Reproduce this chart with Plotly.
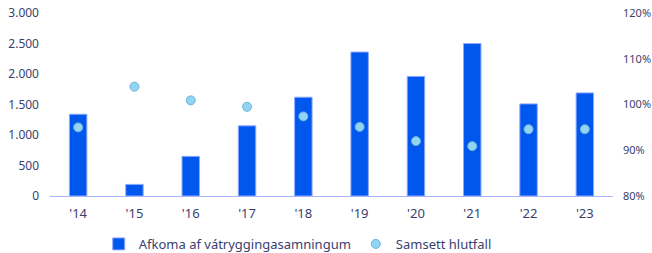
import plotly.graph_objects as go

years = ["'14", "'15", "'16", "'17", "'18", "'19", "'20", "'21", "'22", "'23"]
afkoma = [1340, 190, 650, 1150, 1620, 2360, 1960, 2500, 1510, 1690]
hlutfall = [95.0, 103.9, 100.9, 99.5, 97.4, 95.1, 92.0, 90.9, 94.6, 94.6]

bar_name = "Afkoma af vátryggingasamningum"
dot_name = "Samsett hlutfall"

txt = "#3a3f6e"
fig = go.Figure()
fig.add_trace(go.Bar(
    x=years, y=afkoma, name=bar_name,
    marker=dict(color="#0057ee", line=dict(color="#8fa8ff", width=1)),
    width=0.31,
))
fig.add_trace(go.Scatter(
    x=years, y=hlutfall, name=dot_name, mode="markers", yaxis="y2",
    marker=dict(color="#92d5f2", size=9, line=dict(color="#6ab4dc", width=1)),
))
fig.update_layout(
    width=652, height=253,
    margin=dict(l=50, r=39, t=13, b=57, autoexpand=False),
    plot_bgcolor="white", paper_bgcolor="white",
    separators=",.",
    font=dict(family="Noto Sans", size=12, color=txt),
    showlegend=True,
    legend=dict(orientation="h", x=0.44, xanchor="center", y=-0.262, yanchor="middle",
                font=dict(size=13, color=txt), itemwidth=30, tracegroupgap=0),
    xaxis=dict(showgrid=False, showline=True, linecolor="#aab4ff", linewidth=1,
               tickfont=dict(size=13, color=txt), ticks="", range=[-0.5, 9.5],
               ticklabelstandoff=5),
    yaxis=dict(range=[0, 3000], dtick=500, tickformat=",d", showgrid=False,
               zeroline=False, ticks="", ticklabelstandoff=10),
    yaxis2=dict(range=[80, 120], dtick=10, ticksuffix="%", overlaying="y", side="right",
                showgrid=False, zeroline=False, ticks="", ticklabelstandoff=9,
                tickfont=dict(size=11, color=txt)),
    bargap=0.6,
)
fig.write_html("out.html", config={"displayModeBar": False},
               post_script="document.body.style.margin='0px';document.body.style.overflow='hidden';")
